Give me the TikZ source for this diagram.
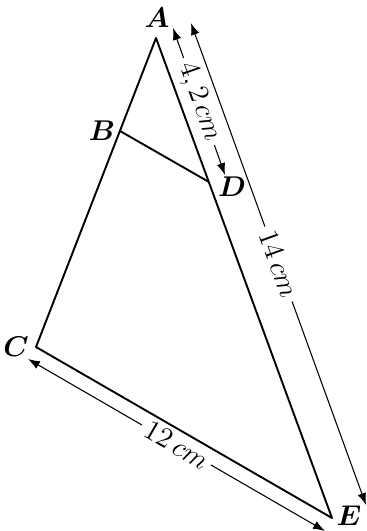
\documentclass[tikz,border=0pt]{standalone}
\usepackage{bm}
\usetikzlibrary{arrows.meta}
\begin{document}
\begin{tikzpicture}[x=0.42pt,y=-0.42pt,>={Latex[length=5pt,width=3.6pt]},line join=round,
			cote/.style={line width=0.45pt,->},
			every node/.style={font=\large}]
			\useasboundingbox (0,0) rectangle (367,531);
			%%Đỉnh tam giác
			\coordinate (A) at (156,38);
			\coordinate (C) at (36,347);
			\coordinate (E) at (332,518);
			\coordinate (B) at (120,131);
			\coordinate (D) at (209,182);
			%%Tam giác và BD
			\draw[line width=0.8pt] (A) -- (C) -- (E) -- cycle;
			\draw[line width=0.8pt] (B) -- (D);
			%%Tên đỉnh
			\node (lA) at (157,18) {$\bm{A}$};
			\node (lB) at (102,131) {$\bm{B}$};
			\node (lC) at (16,347) {$\bm{C}$};
			\node (lD) at (232,187) {$\bm{D}$};
			\node (lE) at (349,516) {$\bm{E}$};
			%%Đầu mút các đường kích thước
			\coordinate (a1) at (173,28);
			\coordinate (d1) at (225,175);
			\coordinate (a2) at (191,23);
			\coordinate (e2) at (366,505);
			\coordinate (c3) at (28,359);
			\coordinate (e3) at (325,531);
			%%Kích thước AD
			\path (a1) -- node[sloped,inner sep=2pt] (lAD) {$4,2\,cm$} (d1);
			\draw[cote] (lAD) -- (a1);
			\draw[cote] (lAD) -- (d1);
			%%Kích thước AE
			\path (a2) -- node[sloped,inner sep=2pt] (lAE) {$14\,cm$} (e2);
			\draw[cote] (lAE) -- (a2);
			\draw[cote] (lAE) -- (e2);
			%%Kích thước CE
			\path (c3) -- node[sloped,inner sep=2pt] (lCE) {$12\,cm$} (e3);
			\draw[cote] (lCE) -- (c3);
			\draw[cote] (lCE) -- (e3);
		\end{tikzpicture}
\end{document}
